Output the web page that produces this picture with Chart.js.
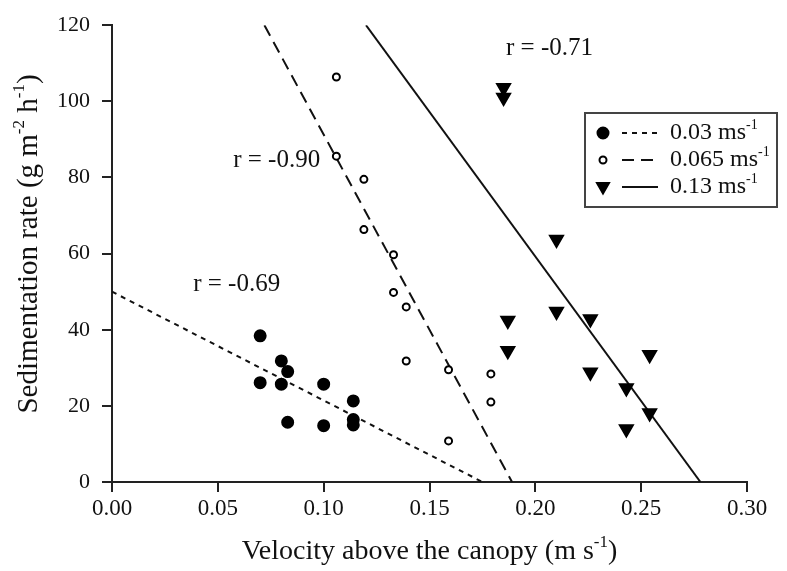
<!DOCTYPE html>
<html>
<head>
<meta charset="utf-8">
<script src="https://cdn.jsdelivr.net/npm/chart.js@4/dist/chart.umd.min.js"></script>
<style>
  html, body { margin: 0; padding: 0; background: #fff; }
</style>
</head>
<body>
<canvas id="sedChart" width="787" height="571"></canvas>
<script>
// velocity (m/s) and sedimentation rate (g m-2 h-1) per flow treatment
const slowVel  = [0.070, 0.070, 0.080, 0.080, 0.083, 0.083, 0.100, 0.100, 0.114, 0.114, 0.114];
const slowRate = [38.4, 26.1, 31.8, 25.7, 29.0, 15.7, 25.7, 14.8, 21.3, 16.4, 15.0];

const midVel  = [0.106, 0.106, 0.119, 0.119, 0.133, 0.133, 0.139, 0.139, 0.159, 0.159, 0.179, 0.179];
const midRate = [106.4, 85.6, 79.5, 66.3, 59.7, 49.8, 46.0, 31.8, 29.5, 10.8, 28.4, 21.0];

const fastVel  = [0.185, 0.185, 0.187, 0.187, 0.210, 0.210, 0.226, 0.226, 0.243, 0.243, 0.254, 0.254];
const fastRate = [103.6, 101.0, 42.4, 34.5, 63.7, 44.8, 42.8, 28.8, 24.7, 13.9, 33.4, 18.1];

// regression lines, end points
const slowFitX = [0, 0.175];     const slowFitY = [50, 0];
const midFitX  = [0.072, 0.189]; const midFitY  = [120, 0];
const fastFitX = [0.120, 0.278]; const fastFitY = [120, 0];

const seriesNames = ['0.03', '0.065', '0.13'];
const rValues = ['-0.69', '-0.90', '-0.71'];
const rAnchors = [[0.0589, 52.0], [0.0778, 84.4], [0.2067, 113.8]];

const xTicks = [0, 0.05, 0.10, 0.15, 0.20, 0.25, 0.30];
const yTicks = [0, 20, 40, 60, 80, 100, 120];

const SERIF = '"Liberation Serif", "Times New Roman", serif';

function pts(xs, ys) {
  return xs.map((x, i) => ({ x: x, y: ys[i] }));
}

// draws text with superscript runs, e.g. [['m'], ['-1', true]]
function drawRuns(ctx, runs, x, y, size, align) {
  const big = size + 'px ' + SERIF;
  const small = Math.round(size * 0.6) + 'px ' + SERIF;
  let total = 0;
  runs.forEach(r => {
    ctx.font = r[1] ? small : big;
    total += ctx.measureText(r[0]).width;
  });
  let cx = align === 'center' ? x - total / 2 : x;
  ctx.textAlign = 'left';
  ctx.textBaseline = 'middle';
  runs.forEach(r => {
    ctx.font = r[1] ? small : big;
    ctx.fillText(r[0], cx, r[1] ? y - size * 0.33 : y);
    cx += ctx.measureText(r[0]).width;
  });
}

const lineStyles = [[5, 5], [12, 7], []];

const extras = {
  id: 'extras',
  afterDraw(chart) {
    const ctx = chart.ctx;
    const xs = chart.scales.x, ys = chart.scales.y;
    ctx.save();
    ctx.fillStyle = '#111';

    // correlation labels
    rValues.forEach((r, i) => {
      drawRuns(ctx, [['r = ' + r]], xs.getPixelForValue(rAnchors[i][0]), ys.getPixelForValue(rAnchors[i][1]), 25, 'center');
    });

    // axis titles
    drawRuns(ctx, [['Velocity above the canopy (m s'], ['-1', true], [')']], (chart.chartArea.left + chart.chartArea.right) / 2, 552, 28, 'center');
    ctx.save();
    ctx.translate(29, 244);
    ctx.rotate(-Math.PI / 2);
    drawRuns(ctx, [['Sedimentation rate (g m'], ['-2', true], [' h'], ['-1', true], [')']], 0, 0, 29, 'center');
    ctx.restore();

    // legend box
    const bx = 585, by = 113, bw = 192, bh = 94;
    ctx.strokeStyle = '#444';
    ctx.lineWidth = 2;
    ctx.setLineDash([]);
    ctx.strokeRect(bx, by, bw, bh);
    seriesNames.forEach((name, i) => {
      const ds = chart.data.datasets[i];
      const rowY = by + 20 + i * 27;
      const r = ds.pointRadius;
      ctx.fillStyle = ds.backgroundColor;
      ctx.strokeStyle = ds.borderColor;
      ctx.lineWidth = ds.borderWidth;
      ctx.beginPath();
      if (ds.pointStyle === 'circle') {
        ctx.arc(bx + 18, rowY, r, 0, Math.PI * 2);
      } else {
        ctx.moveTo(bx + 18 - r * 0.8, rowY - r * 0.55);
        ctx.lineTo(bx + 18 + r * 0.8, rowY - r * 0.55);
        ctx.lineTo(bx + 18, rowY + r * 0.85);
        ctx.closePath();
      }
      ctx.fill();
      ctx.stroke();
      ctx.strokeStyle = '#111';
      ctx.lineWidth = 2;
      ctx.setLineDash(lineStyles[i]);
      ctx.beginPath();
      ctx.moveTo(bx + 37, rowY);
      ctx.lineTo(bx + 73, rowY);
      ctx.stroke();
      ctx.setLineDash([]);
      ctx.fillStyle = '#111';
      drawRuns(ctx, [[name + ' ms'], ['-1', true]], bx + 85, rowY, 24, 'left');
    });
    ctx.restore();
  }
};

const pointSet = (label, data, style, fill, radius, rotation) => ({
  type: 'scatter',
  label: label,
  data: data,
  pointStyle: style,
  pointRadius: radius,
  pointHoverRadius: radius,
  rotation: rotation,
  backgroundColor: fill,
  borderColor: '#000',
  borderWidth: 2,
  showLine: false
});

const fitSet = (data, dash) => ({
  type: 'line',
  data: data,
  borderColor: '#111',
  borderWidth: 2,
  borderDash: dash,
  pointRadius: 0,
  fill: false,
  tension: 0
});

new Chart(document.getElementById('sedChart'), {
  data: {
    datasets: [
      pointSet(seriesNames[0], pts(slowVel, slowRate), 'circle', '#000', 5.5, 0),
      pointSet(seriesNames[1], pts(midVel, midRate), 'circle', '#fff', 3.5, 0),
      pointSet(seriesNames[2], pts(fastVel, fastRate), 'triangle', '#000', 7.5, 180),
      fitSet(pts(slowFitX, slowFitY), lineStyles[0]),
      fitSet(pts(midFitX, midFitY), lineStyles[1]),
      fitSet(pts(fastFitX, fastFitY), lineStyles[2])
    ]
  },
  options: {
    responsive: false,
    animation: false,
    layout: { padding: { top: 25, right: 40, left: 0, bottom: 0 } },
    plugins: { legend: { display: false }, tooltip: { enabled: false } },
    scales: {
      x: {
        type: 'linear',
        min: 0, max: 0.30,
        afterBuildTicks: s => { s.ticks = xTicks.map(v => ({ value: v })); },
        afterFit: s => { s.height = 89; },
        ticks: {
          color: '#111',
          padding: 3,
          font: { family: SERIF, size: 23 },
          callback: v => v.toFixed(2)
        },
        grid: { drawOnChartArea: false, color: '#222', lineWidth: 2, tickLength: 10 },
        border: { color: '#222', width: 2 }
      },
      y: {
        type: 'linear',
        min: 0, max: 120,
        afterBuildTicks: s => { s.ticks = yTicks.map(v => ({ value: v })); },
        afterFit: s => { s.width = 112; },
        ticks: {
          color: '#111',
          padding: 12,
          font: { family: SERIF, size: 22 }
        },
        grid: { drawOnChartArea: false, color: '#222', lineWidth: 2, tickLength: 10 },
        border: { color: '#222', width: 2 }
      }
    }
  },
  plugins: [extras]
});
</script>
</body>
</html>
